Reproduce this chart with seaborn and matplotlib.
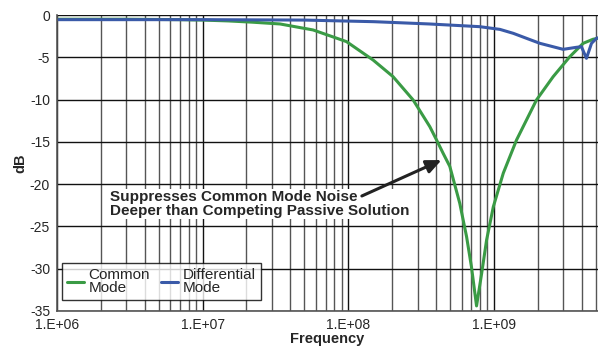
import numpy as np
import pandas as pd
import seaborn as sns
import matplotlib.pyplot as plt
from matplotlib.ticker import FixedLocator, LogLocator, NullFormatter

# Common mode curve, frequency in Hz, level in dB
cm_freq = [1e6, 3e6, 7e6, 1e7, 1.5e7, 2.2e7, 3.4e7, 5.74e7, 9.73e7, 1.48e8, 2.03e8,
           2.79e8, 3.63e8, 4.04e8, 4.48e8, 4.98e8, 5.83e8, 6.49e8, 7.01e8, 7.6e8,
           8.24e8, 8.91e8, 9.91e8, 1.16e9, 1.43e9, 1.96e9, 2.55e9, 3.32e9, 4.1e9,
           4.79e9, 5.2e9]
cm_db = [-0.5, -0.5, -0.55, -0.6, -0.7, -0.85, -1.06, -1.77, -3.15, -5.32, -7.29,
         -10.05, -13.2, -14.78, -16.35, -17.9, -22.27, -26.2, -29.76, -34.4,
         -30.55, -26.6, -22.67, -18.7, -14.78, -10.05, -7.3, -4.93, -3.35,
         -2.87, -2.75]

# Differential mode curve
dm_freq = [1e6, 1e7, 5e7, 1.5e8, 3.6e8, 8e8, 1.1e9, 1.36e9, 1.7e9, 2.07e9, 2.99e9,
           3.69e9, 3.99e9, 4.32e9, 4.68e9, 5.06e9, 5.2e9]
dm_db = [-0.55, -0.55, -0.6, -0.79, -1.06, -1.38, -1.7, -2.17, -2.8, -3.35, -4.06,
         -3.82, -3.75, -5.12, -3.35, -2.76, -2.7]

y_ticks = [0, -5, -10, -15, -20, -25, -30, -35]
x_ticks = [1e6, 1e7, 1e8, 1e9]
x_labels = ["1.E+06", "1.E+07", "1.E+08", "1.E+09"]

df = pd.concat([
    pd.DataFrame({"Frequency": cm_freq, "dB": cm_db, "Mode": "Common\nMode"}),
    pd.DataFrame({"Frequency": dm_freq, "dB": dm_db, "Mode": "Differential\nMode"}),
])

sns.set_style("white")
plt.rcParams['font.family'] = ['Liberation Sans', 'DejaVu Sans']

fig = plt.figure(figsize=(5.98, 3.53), dpi=100)
ax = fig.add_axes([0.0953, 0.119, 0.905, 0.8385])

sns.lineplot(data=df, x="Frequency", y="dB", hue="Mode", sort=False,
             palette=["#3a9b45", "#3a5aa8"], linewidth=2.2, ax=ax)

ax.set_xscale("log")
ax.set_xlim(1e6, 5.2e9)
ax.set_ylim(-35, 0)
ax.xaxis.set_major_locator(FixedLocator(x_ticks))
ax.set_xticklabels(x_labels, fontsize=10)
ax.xaxis.set_minor_locator(LogLocator(base=10, subs=np.arange(2, 10)))
ax.xaxis.set_minor_formatter(NullFormatter())
ax.set_yticks(y_ticks)
ax.set_yticklabels([str(t) for t in y_ticks], fontsize=10)
ax.tick_params(axis="both", which="major", direction="out", length=3, width=1, color="#333333", pad=2)
ax.tick_params(axis="x", which="minor", length=0)

ax.grid(True, which="major", color="#111111", linewidth=1)
ax.grid(True, which="minor", axis="x", color="#555555", linewidth=1)
ax.set_axisbelow(True)
for s in ["top", "right"]:
    ax.spines[s].set_visible(False)
for s in ["left", "bottom"]:
    ax.spines[s].set_color("#555555")
    ax.spines[s].set_linewidth(1.2)

ax.set_xlabel("Frequency", fontsize=10.5, fontweight="bold", labelpad=0)
ax.set_ylabel("dB", fontsize=10.5, fontweight="bold", labelpad=2)

# callout text on a white box, arrow drawn on top of it
ax.text(2.3e6, -20.7, "Suppresses Common Mode Noise\nDeeper than Competing Passive Solution",
        fontsize=11, fontweight="bold", va="top", ha="left", linespacing=0.95, zorder=4,
        bbox=dict(boxstyle="square,pad=0.08", fc="white", ec="none"))
ax.annotate("", xy=(4.37e8, -17.15), xytext=(1.24e8, -21.4), zorder=5,
            arrowprops=dict(arrowstyle="-|>,head_length=0.9,head_width=0.4", color="#222222",
                            lw=2.2, shrinkA=0, shrinkB=0))

leg = ax.legend(loc="lower left", bbox_to_anchor=(0.0092, 0.037), borderaxespad=0,
                ncol=2, fontsize=11, frameon=True, fancybox=False, edgecolor="black",
                handlelength=1.15, handletextpad=0.3, columnspacing=0.7, borderpad=0.3,
                labelspacing=0.2)
leg.get_frame().set_linewidth(1.0)
for t in leg.get_texts():
    t.set_linespacing(0.95)
leg.set_title(None)

fig.savefig("out.png", dpi=100)
